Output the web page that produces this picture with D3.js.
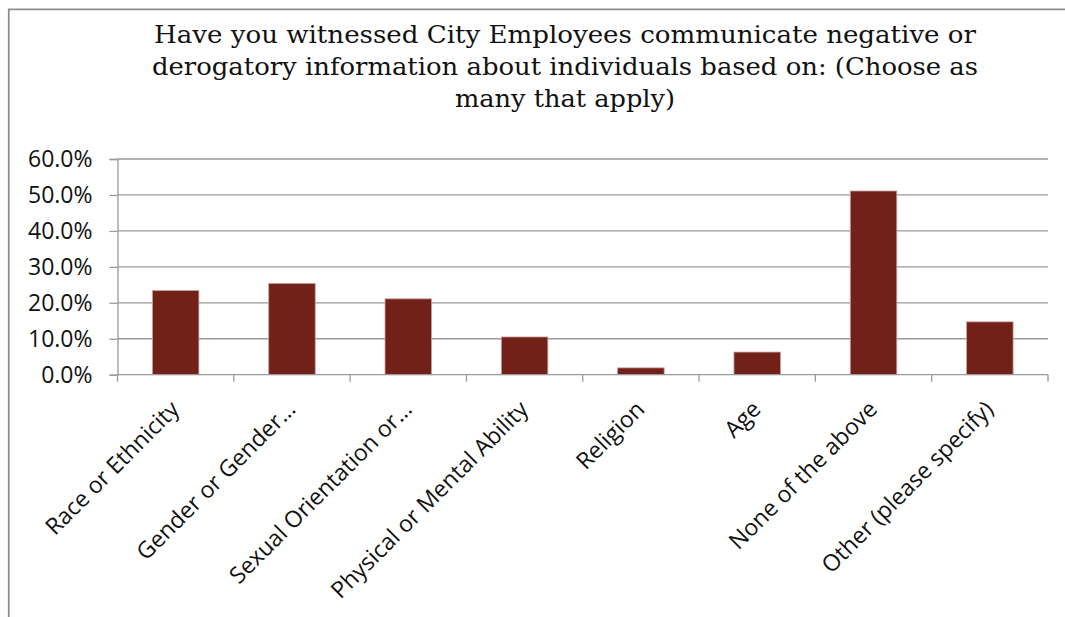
<!DOCTYPE html>
<html>
<head>
<meta charset="utf-8">
<script src="https://cdn.jsdelivr.net/npm/d3@7"></script>
<style>
  html, body { margin: 0; padding: 0; background: #fff; }
  svg { display: block; }
</style>
</head>
<body>
<svg id="chart" width="1065" height="617"></svg>
<script>
// Survey responses (share of respondents, multiple answers allowed)
const categories = [
  "Race or Ethnicity",
  "Gender or Gender…",
  "Sexual Orientation or…",
  "Physical or Mental Ability",
  "Religion",
  "Age",
  "None of the above",
  "Other (please specify)"
];
const values = [0.234, 0.254, 0.211, 0.105, 0.019, 0.063, 0.511, 0.147];
const yTicks = [0, 0.1, 0.2, 0.3, 0.4, 0.5, 0.6];
const titleLines = [
  "Have you witnessed City Employees communicate negative or",
  "derogatory information about individuals based on: (Choose as",
  "many that apply)"
];

const svg = d3.select("#chart");
const W = 1065, H = 617;
const plot = { left: 117.5, right: 1048, top: 159, bottom: 374.7 };
const labelFont = "'Open Sans', sans-serif";
const labelSize = 23;

// Outer chart frame
svg.append("path")
  .attr("d", `M8.75,${H} V9.25 H${W}`)
  .attr("fill", "none")
  .attr("stroke", "#8c8c8c")
  .attr("stroke-width", 1.75);

// Title
const titleG = svg.append("g")
  .attr("font-family", "'DejaVu Serif Condensed', 'DejaVu Serif', serif")
  .attr("font-stretch", "condensed")
  .attr("font-size", 24)
  .attr("fill", "#111")
  .attr("text-anchor", "middle");
const titleWidths = [822, 826, 220];
titleLines.forEach((t, i) => {
  const el = titleG.append("text")
    .attr("x", 565)
    .attr("y", 43 + i * 32)
    .text(t);
  const len = el.node().getComputedTextLength();
  if (Math.abs(len - titleWidths[i]) > 4) {
    el.attr("textLength", titleWidths[i]).attr("lengthAdjust", "spacingAndGlyphs");
  }
});

const x = d3.scaleBand()
  .domain(categories)
  .range([plot.left, plot.right])
  .paddingInner(0.6)
  .paddingOuter(0.3);

const y = d3.scaleLinear()
  .domain([0, 0.6])
  .range([plot.bottom, plot.top]);

// Horizontal gridlines
svg.append("g")
  .selectAll("line")
  .data(yTicks.filter(d => d > 0))
  .join("line")
  .attr("x1", plot.left)
  .attr("x2", plot.right)
  .attr("y1", d => y(d))
  .attr("y2", d => y(d))
  .attr("stroke", "#9a9a9a")
  .attr("stroke-width", 1.3);

// Y axis
const yAxis = svg.append("g")
  .attr("transform", `translate(${plot.left},0)`)
  .call(d3.axisLeft(y).tickValues(yTicks).tickFormat(d3.format(".1%")).tickSize(8).tickPadding(17));
yAxis.select(".domain").attr("stroke", "#9a9a9a").attr("stroke-width", 1.3);
yAxis.selectAll(".tick line").attr("stroke", "#9a9a9a").attr("stroke-width", 1.3);
yAxis.selectAll(".tick text")
  .attr("font-family", labelFont)
  .attr("font-size", labelSize)
  .attr("fill", "#111");

// Bars
svg.append("g")
  .selectAll("rect")
  .data(values)
  .join("rect")
  .attr("x", (d, i) => x(categories[i]))
  .attr("y", d => y(d))
  .attr("width", x.bandwidth())
  .attr("height", d => y(0) - y(d))
  .attr("fill", "#722119")
  .attr("stroke", "#c9a29e")
  .attr("stroke-width", 0.8);

// X axis with category boundary ticks
const boundaries = d3.range(categories.length + 1).map(i => plot.left + i * (plot.right - plot.left) / categories.length);
const xAxisG = svg.append("g");
xAxisG.append("line")
  .attr("x1", plot.left).attr("x2", plot.right)
  .attr("y1", y(0)).attr("y2", y(0))
  .attr("stroke", "#9a9a9a").attr("stroke-width", 1.3);
xAxisG.selectAll("line.tick")
  .data(boundaries)
  .join("line")
  .attr("class", "tick")
  .attr("x1", d => d).attr("x2", d => d)
  .attr("y1", y(0)).attr("y2", y(0) + 7)
  .attr("stroke", "#9a9a9a").attr("stroke-width", 1.3);

// Rotated category labels
xAxisG.selectAll("text")
  .data(categories)
  .join("text")
  .attr("transform", d => `translate(${x(d) + x.bandwidth() / 2 + 5},${y(0) + 36}) rotate(-45)`)
  .attr("text-anchor", "end")
  .attr("font-family", labelFont)
  .attr("font-size", labelSize)
  .attr("fill", "#111")
  .text(d => d);
</script>
</body>
</html>
